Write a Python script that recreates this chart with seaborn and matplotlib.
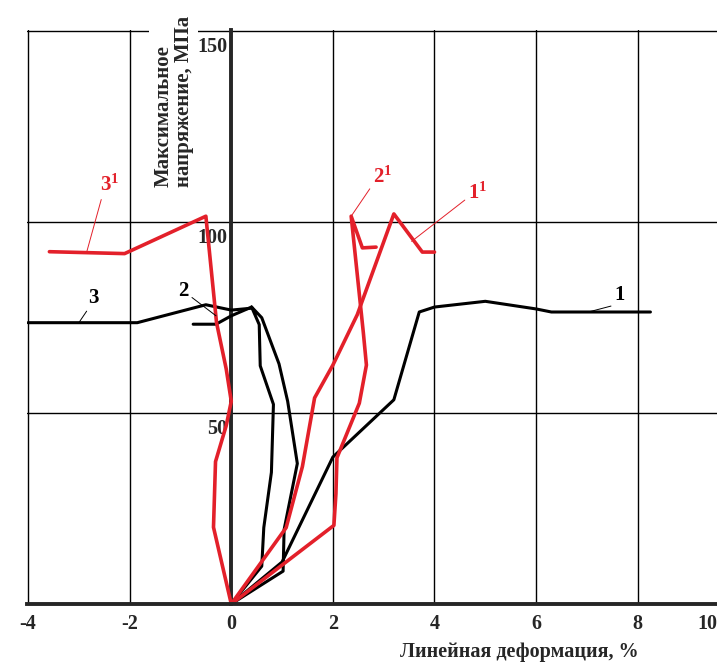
import matplotlib
matplotlib.use("Agg")
import matplotlib.pyplot as plt
import matplotlib.transforms as mtransforms
import seaborn as sns

# кривые 1, 2, 3 (чёрные) и 1', 2', 3' (красные)
# x - линейная деформация, %;  y - максимальное напряжение, МПа
x1 = [0, 1.0, 2.0, 3.2, 3.7, 4.0, 5.0, 6.0, 6.3, 8.25]
y1 = [0, 11, 38.5, 53.5, 76.5, 77.8, 79.3, 77.3, 76.5, 76.5]

x2 = [-0.75, -0.3, 0.0, 0.4, 0.6, 0.94, 1.11, 1.3, 1.04, 1.02, 0,
      0.6, 0.64, 0.79, 0.83, 0.57, 0.55, 0.4]
y2 = [73.3, 73.3, 75.5, 77.8, 75, 62.9, 53.1, 36.8, 19.5, 8.6, 0,
      9.9, 20, 34.5, 52.3, 62.4, 73.2, 77.8]

x3 = [-4, -1.85, -0.5, 0, 0.4]
y3 = [73.7, 73.7, 78.4, 77, 77.5]

x1r = [0, 1.08, 1.4, 1.64, 2.0, 2.48, 3.2, 3.76, 4.0]
y1r = [0, 20, 36, 54, 62.6, 75.8, 102.2, 92.2, 92.2]

x2r = [0, 2.02, 2.06, 2.08, 2.52, 2.66, 2.6, 2.36, 2.58, 2.85]
y2r = [0, 20.6, 28.9, 38.3, 52.6, 62.6, 71, 101.6, 93.3, 93.5]

x3r = [-3.58, -2.1, -0.5, -0.29, -0.1, 0, -0.1, -0.31, -0.35, 0]
y3r = [92.3, 91.8, 101.6, 73.7, 61.6, 53.1, 46.7, 37.3, 20.1, 0]

xticks = [-4, -2, 0, 2, 4, 6, 8, 10]
yticks = [50, 100, 150]

RED = '#e3202a'

sns.set_style("white")
plt.rcParams['font.family'] = ['Liberation Serif', 'DejaVu Serif']
plt.rcParams['axes.unicode_minus'] = False
plt.rcParams['mathtext.fontset'] = 'custom'
plt.rcParams['mathtext.rm'] = 'Liberation Serif'
plt.rcParams['mathtext.bf'] = 'Liberation Serif:bold'

fig = plt.figure(figsize=(7.17, 6.64), dpi=100)
# ось заходит чуть за правый край листа, как на исходном рисунке
ax = fig.add_axes([0.0377, 0.0904, 0.997, 0.8645])

for xs, ys in [(x1, y1), (x2, y2), (x3, y3)]:
    sns.lineplot(x=xs, y=ys, sort=False, estimator=None, color='black', lw=2.2, ax=ax)
for xs, ys in [(x1r, y1r), (x2r, y2r), (x3r, y3r)]:
    sns.lineplot(x=xs, y=ys, sort=False, estimator=None, color=RED, lw=2.6, ax=ax)

ax.set_xticks(xticks)
ax.set_yticks(yticks)
ax.set_xlim(-4.02, 10.05)
ax.set_ylim(0, 150.4)
ax.grid(True, color='black', lw=1.0)
ax.set_axisbelow(True)

ax.spines['left'].set_position(('data', 0))
ax.spines['left'].set_linewidth(2.8)
ax.spines['bottom'].set_linewidth(2.8)
ax.spines['left'].set_zorder(1.5)
ax.spines['top'].set_visible(False)
ax.spines['right'].set_visible(False)

ax.tick_params(axis='x', length=0, pad=7, labelsize=14.5)
ax.tick_params(axis='y', length=0, pad=3, labelsize=14.5)
for lab in ax.get_xticklabels() + ax.get_yticklabels():
    lab.set_fontweight('bold')
for lab in ax.get_yticklabels():
    lab.set_va('top')
    lab.set_transform(lab.get_transform() +
                      mtransforms.ScaledTranslation(0, -4 / 72, fig.dpi_scale_trans))
last = ax.get_xticklabels()[-1]
last.set_transform(last.get_transform() +
                   mtransforms.ScaledTranslation(-23 / 72, 0, fig.dpi_scale_trans))

ax.set_ylabel('Максимальное\nнапряжение, МПа', fontsize=15, fontweight='bold',
              linespacing=1.05, multialignment='left')
ax.yaxis.label.set_va('center')
ax.yaxis.label.set_bbox(dict(facecolor='white', edgecolor='none', pad=3))
ax.yaxis.set_label_coords(0.2055, 0.876)

ax.set_xlabel('Линейная деформация, %', fontsize=14.5, fontweight='bold')
ax.xaxis.label.set_va('center')
ax.xaxis.set_label_coords(0.688, -0.083)

# подписи кривых с выносками
notes = [
    ('1', (7.03, 76.5), (7.64, 80.9), 'black', (0, 0)),
    ('3', (-3.0, 73.7), (-2.72, 80.2), 'black', (0.1, 0)),
    ('2', (-0.3, 75.5), (-0.94, 82.0), 'black', (1, 0.3)),
    (r'$\mathbf{3^1}$', (-2.85, 92.0), (-2.39, 109.6), RED, (0.1, 0)),
    (r'$\mathbf{2^1}$', (2.36, 101.6), (2.98, 111.7), RED, (0, 0.2)),
    (r'$\mathbf{1^1}$', (3.55, 95.0), (4.85, 107.6), RED, (0, 0.3)),
]
for txt, xy, xytext, col, rp in notes:
    ax.annotate(txt, xy=xy, xytext=xytext, color=col, fontsize=15, fontweight='bold',
                ha='center', va='center',
                arrowprops=dict(arrowstyle='-', color=col, lw=0.7,
                                shrinkA=0, shrinkB=0, relpos=rp))

fig.savefig('out.png', dpi=100)
